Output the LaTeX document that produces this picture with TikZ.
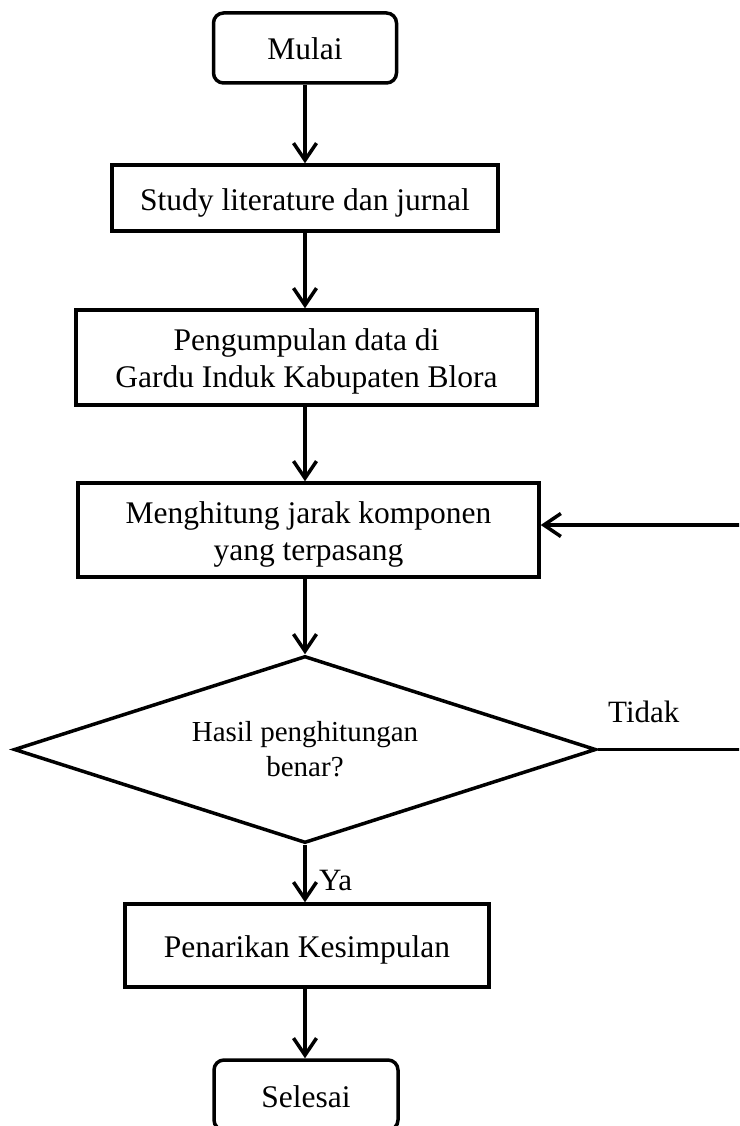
\documentclass[tikz,border=0pt]{standalone}
\usepackage{fontspec}
\setmainfont{Liberation Serif}
\usetikzlibrary{arrows.meta,shapes.geometric}
\begin{document}
\begin{tikzpicture}[x=1pt,y=-1pt,
  every node/.style={inner sep=0pt},
  box/.style={draw, line width=3.5pt, rectangle, font=\fontsize{31.5}{37}\selectfont, text height=24pt, text depth=0pt},
  rbox/.style={box, rounded corners=10pt},
  twoline/.style={text height=60pt, text depth=0pt},
  decision/.style={draw, diamond, line width=3.5pt, shape aspect=3.1, font=\fontsize{29}{35}\selectfont, text height=53pt, text depth=0pt},
  flow/.style={line width=3.5pt, -{Straight Barb[length=17pt,width=23pt]}},
  lbl/.style={font=\fontsize{31}{37}\selectfont, anchor=base west},
]
\useasboundingbox (0,0) rectangle (739,1126);
\clip (0,0) rectangle (739,1126);

\node[rbox, minimum width=183pt, minimum height=70pt] (start) at (305,48) {Mulai};
\node[box, minimum width=386pt, minimum height=66pt] (study) at (305,198) {Study literature dan jurnal};
\node[box, twoline, minimum width=461pt, minimum height=95pt] (data) at (306.5,357.5)
  {\begin{tabular}[b]{@{}c@{}}Pengumpulan data di\\Gardu Induk Kabupaten Blora\end{tabular}};
\node[box, twoline, minimum width=461pt, minimum height=94pt] (calc) at (308.5,530)
  {\begin{tabular}[b]{@{}c@{}}Menghitung jarak komponen\\yang terpasang\end{tabular}};
\node[decision, minimum width=582pt, minimum height=187pt] (dec) at (305,749.5)
  {\begin{tabular}[b]{@{}c@{}}Hasil penghitungan\\benar?\end{tabular}};
\node[box, minimum width=364pt, minimum height=83pt] (concl) at (307,945.5) {Penarikan Kesimpulan};
\node[rbox, minimum width=184pt, minimum height=70pt] (end) at (306,1095) {Selesai};

\node[lbl] (ya) at (319,890) {Ya};
\node[lbl] (tidak) at (608,722) {Tidak};

\coordinate (loopA) at (745,749.5);
\coordinate (loopB) at (745,525);

\draw[flow] (start) -- (study);
\draw[flow] (study) -- (study.south |- data.north);
\draw[flow] (data.south -| study.south) -- (study.south |- calc.north);
\draw[flow] (calc.south -| dec.north) -- (dec.north);
\draw[flow] (dec.south) -- (dec.south |- concl.north);
\draw[flow] (concl.south -| dec.south) -- (dec.south |- end.north);
\draw[flow] (dec.east) -- (loopA) -- (loopB) -- (loopB -| calc.east);
\end{tikzpicture}
\end{document}
